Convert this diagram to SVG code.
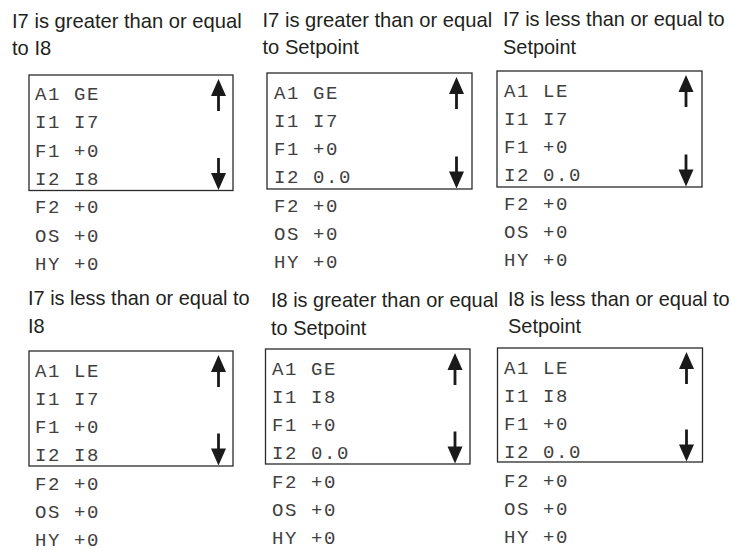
<svg xmlns="http://www.w3.org/2000/svg" width="733" height="551" viewBox="0 0 733 551">
<style>
.ttl{font-family:"Liberation Sans","Arial",sans-serif;font-size:21px;fill:#231f20}
.mono{font-family:"Liberation Mono","Courier New",monospace;font-size:19px;fill:#404040;letter-spacing:1.6px}
.box{fill:none;stroke:#2a2a2a;stroke-width:1.3}
.arr{fill:#1a1a1a}
</style>
<defs>
<path id="arrow" class="arr" d="M0,0 L7.5,17 L1.4,17 L1.4,32 L-1.4,32 L-1.4,17 L-7.5,17 Z"/>
</defs>
<rect width="733" height="551" fill="#ffffff"/>

<g id="panel1">
<text class="ttl" transform="translate(12,28) scale(0.96,1)">I7 is greater than or equal</text>
<text class="ttl" transform="translate(12,55) scale(0.96,1)">to I8</text>
<rect class="box" x="29" y="75" width="204" height="115.5"/>
<use href="#arrow" transform="translate(218.5,79)"/>
<use href="#arrow" transform="translate(218.5,190) rotate(180)"/>
<text class="mono" x="35" y="100">A1 GE</text>
<text class="mono" x="35" y="128.3">I1 I7</text>
<text class="mono" x="35" y="156.6">F1 +0</text>
<text class="mono" x="35" y="184.9">I2 I8</text>
<text class="mono" x="35" y="213.2">F2 +0</text>
<text class="mono" x="35" y="241.5">OS +0</text>
<text class="mono" x="35" y="269.8">HY +0</text>
</g>

<g id="panel2">
<text class="ttl" transform="translate(262.5,27) scale(0.96,1)">I7 is greater than or equal</text>
<text class="ttl" transform="translate(262.5,54) scale(0.96,1)">to Setpoint</text>
<rect class="box" x="267" y="73" width="205" height="116"/>
<use href="#arrow" transform="translate(456.5,77)"/>
<use href="#arrow" transform="translate(456.5,188.5) rotate(180)"/>
<text class="mono" x="274" y="98.5">A1 GE</text>
<text class="mono" x="274" y="126.8">I1 I7</text>
<text class="mono" x="274" y="155.1">F1 +0</text>
<text class="mono" x="274" y="183.4">I2 0.0</text>
<text class="mono" x="274" y="211.7">F2 +0</text>
<text class="mono" x="274" y="240">OS +0</text>
<text class="mono" x="274" y="268.3">HY +0</text>
</g>

<g id="panel3">
<text class="ttl" transform="translate(503,26) scale(0.95,1)">I7 is less than or equal to</text>
<text class="ttl" transform="translate(503,54) scale(0.95,1)">Setpoint</text>
<rect class="box" x="497" y="71" width="205" height="116"/>
<use href="#arrow" transform="translate(686,75)"/>
<use href="#arrow" transform="translate(686,186.5) rotate(180)"/>
<text class="mono" x="504" y="96.5">A1 LE</text>
<text class="mono" x="504" y="124.8">I1 I7</text>
<text class="mono" x="504" y="153.1">F1 +0</text>
<text class="mono" x="504" y="181.4">I2 0.0</text>
<text class="mono" x="504" y="209.7">F2 +0</text>
<text class="mono" x="504" y="238">OS +0</text>
<text class="mono" x="504" y="266.3">HY +0</text>
</g>

<g id="panel4">
<text class="ttl" transform="translate(28,305) scale(0.95,1)">I7 is less than or equal to</text>
<text class="ttl" transform="translate(28,333) scale(0.95,1)">I8</text>
<rect class="box" x="29" y="351" width="204" height="115"/>
<use href="#arrow" transform="translate(218.5,355)"/>
<use href="#arrow" transform="translate(218.5,465.5) rotate(180)"/>
<text class="mono" x="35" y="376.5">A1 LE</text>
<text class="mono" x="35" y="404.8">I1 I7</text>
<text class="mono" x="35" y="433.1">F1 +0</text>
<text class="mono" x="35" y="461.4">I2 I8</text>
<text class="mono" x="35" y="489.7">F2 +0</text>
<text class="mono" x="35" y="518">OS +0</text>
<text class="mono" x="35" y="546.3">HY +0</text>
</g>

<g id="panel5">
<text class="ttl" transform="translate(271,307) scale(0.95,1)">I8 is greater than or equal</text>
<text class="ttl" transform="translate(271,335) scale(0.95,1)">to Setpoint</text>
<rect class="box" x="265.5" y="349" width="204.5" height="115"/>
<use href="#arrow" transform="translate(455,353)"/>
<use href="#arrow" transform="translate(455,463.5) rotate(180)"/>
<text class="mono" x="272" y="374.5">A1 GE</text>
<text class="mono" x="272" y="402.8">I1 I8</text>
<text class="mono" x="272" y="431.1">F1 +0</text>
<text class="mono" x="272" y="459.4">I2 0.0</text>
<text class="mono" x="272" y="487.7">F2 +0</text>
<text class="mono" x="272" y="516">OS +0</text>
<text class="mono" x="272" y="544.3">HY +0</text>
</g>

<g id="panel6">
<text class="ttl" transform="translate(508,306) scale(0.95,1)">I8 is less than or equal to</text>
<text class="ttl" transform="translate(508,333) scale(0.95,1)">Setpoint</text>
<rect class="box" x="497.5" y="348" width="205" height="114"/>
<use href="#arrow" transform="translate(686.5,352)"/>
<use href="#arrow" transform="translate(686.5,461.5) rotate(180)"/>
<text class="mono" x="504" y="373.5">A1 LE</text>
<text class="mono" x="504" y="401.8">I1 I8</text>
<text class="mono" x="504" y="430.1">F1 +0</text>
<text class="mono" x="504" y="458.4">I2 0.0</text>
<text class="mono" x="504" y="486.7">F2 +0</text>
<text class="mono" x="504" y="515">OS +0</text>
<text class="mono" x="504" y="543.3">HY +0</text>
</g>
</svg>
